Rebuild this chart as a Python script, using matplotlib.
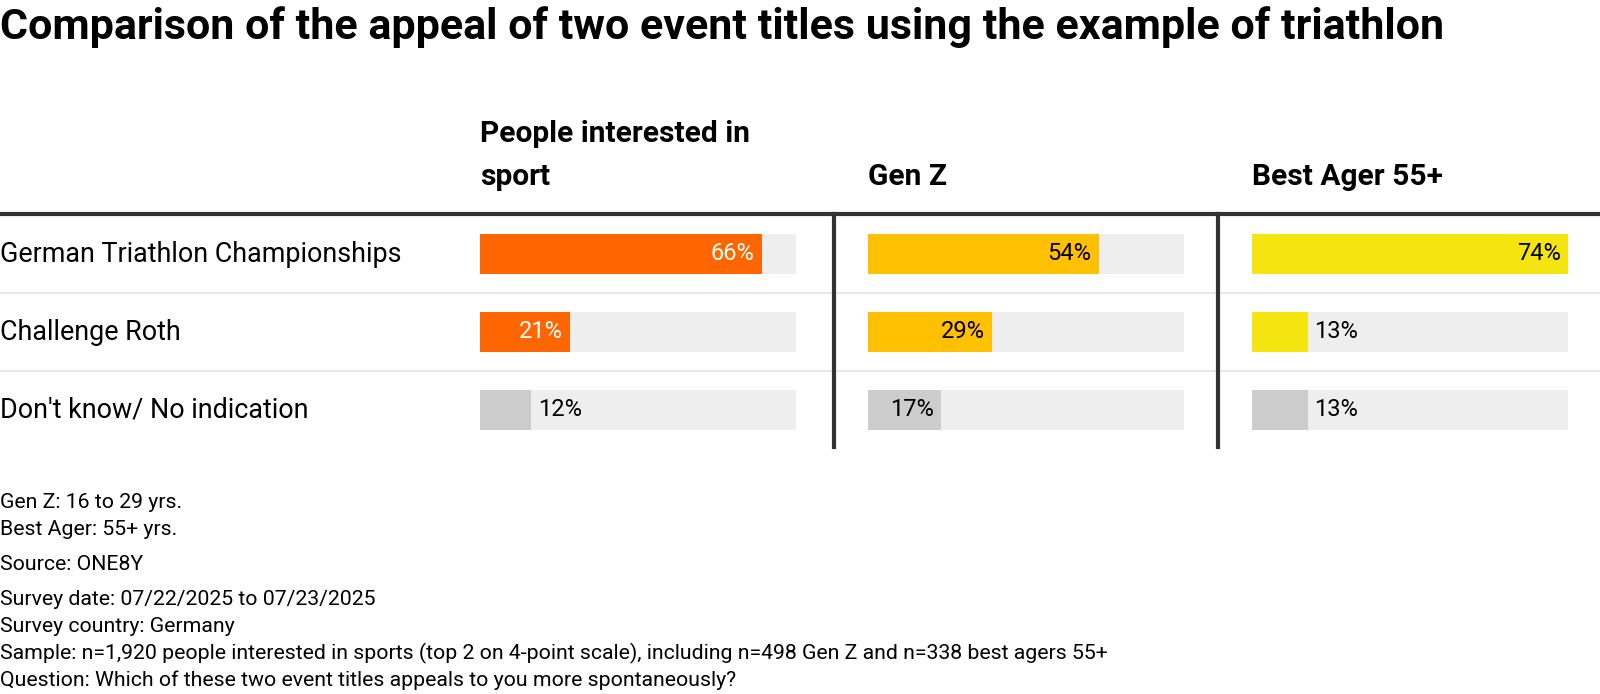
import matplotlib.pyplot as plt

plt.rcParams['font.family'] = ['Roboto', 'DejaVu Sans']

# data
title = "Comparison of the appeal of two event titles using the example of triathlon"
groups = ["People interested in\nsport", "Gen Z", "Best Ager 55+"]
answers = ["German Triathlon Championships", "Challenge Roth", "Don't know/ No indication"]
sport_fans = [66, 21, 12]
gen_z = [54, 29, 17]
best_agers = [74, 13, 13]
group_colors = ["#FF6600", "#FFC000", "#F4E511"]
inside_text = ["white", "black", "black"]
other_color = "#CCCCCC"
track_color = "#EEEEEE"
dark = "#333333"
notes = [
    ["Gen Z: 16 to 29 yrs.", "Best Ager: 55+ yrs."],
    ["Source: ONE8Y"],
    ["Survey date: 07/22/2025 to 07/23/2025",
     "Survey country: Germany",
     "Sample: n=1,920 people interested in sports (top 2 on 4-point scale), including n=498 Gen Z and n=338 best agers 55+",
     "Question: Which of these two event titles appeals to you more spontaneously?"],
]

W, H = 1600, 694
fig = plt.figure(figsize=(W / 100, H / 100), dpi=100)


def fx(px):
    return px / W


def fy(py):
    return 1 - py / H


# table geometry (pixels)
table_top, table_bottom = 214, 447
row_gap = 78
first_row = 254
col_lefts = [446, 834, 1218]
col_w = 384
pad_px = 34
bar_px = 316
tab_h = table_bottom - table_top

values = [sport_fans, gen_z, best_agers]
vmax = max(max(v) for v in values)
n = len(answers)
y_top = (table_top - first_row) / row_gap
y_bot = (n - 1) + (table_bottom - first_row - (n - 1) * row_gap) / row_gap

fig.text(0, fy(39), title, fontsize=31, fontweight='bold', va='baseline', ha='left')

# background axes with row labels and separators
bg = fig.add_axes([0, fy(table_bottom), 1, tab_h / H])
bg.set_xlim(0, 1)
bg.set_ylim(y_bot, y_top)
for s in ['left', 'right', 'bottom']:
    bg.spines[s].set_visible(False)
bg.spines['top'].set_linewidth(3)
bg.spines['top'].set_color(dark)
bg.set_xticks([])
bg.set_yticks([])
for k in range(n - 1):
    bg.axhline(k + 0.5, color="#E8E8E8", lw=1.5, zorder=0)
for i, a in enumerate(answers):
    bg.text(0, i, a, fontsize=19.4, va='center', ha='left', color='black')

pad_d = pad_px / bar_px * vmax
for j, (grp, vals) in enumerate(zip(groups, values)):
    ax = fig.add_axes([fx(col_lefts[j]), fy(table_bottom), col_w / W, tab_h / H])
    ax.patch.set_alpha(0)
    ax.set_xlim(-pad_d, vmax + (col_w - pad_px - bar_px) / bar_px * vmax)
    ax.set_ylim(y_bot, y_top)
    ax.set_xticks([])
    ax.set_yticks([])
    for s in ['top', 'right', 'bottom']:
        ax.spines[s].set_visible(False)
    if j == 0:
        ax.spines['left'].set_visible(False)
    else:
        ax.spines['left'].set_linewidth(3)
        ax.spines['left'].set_color(dark)

    ys = list(range(n))
    ax.barh(ys, [vmax] * n, height=0.51, color=track_color, lw=0)
    colors = [group_colors[j]] * (n - 1) + [other_color]
    ax.barh(ys, vals, height=0.51, color=colors, lw=0)

    lpad = 7 / bar_px * vmax
    for i, v in enumerate(vals):
        lab = f"{v}%"
        if v / vmax * bar_px > 60:
            c = inside_text[j] if i < n - 1 else 'black'
            ax.text(v - lpad, i, lab, fontsize=17, color=c, va='center', ha='right')
        else:
            ax.text(v + lpad, i, lab, fontsize=17, color='black', va='center', ha='left')

    # column header, last line sitting just above the thick rule
    ax.text(0, 1 + (table_top - 191) / tab_h, grp,
            transform=ax.get_xaxis_transform(), fontsize=21.5, fontweight='bold',
            va='bottom', ha='left', linespacing=1.68)

# footnotes
y = 508
for gi, block in enumerate(notes):
    for line in block:
        fig.text(0, fy(y), line, fontsize=15.3, va='baseline', ha='left')
        y += 27
    y += 8

fig.savefig("out.png", dpi=100)
